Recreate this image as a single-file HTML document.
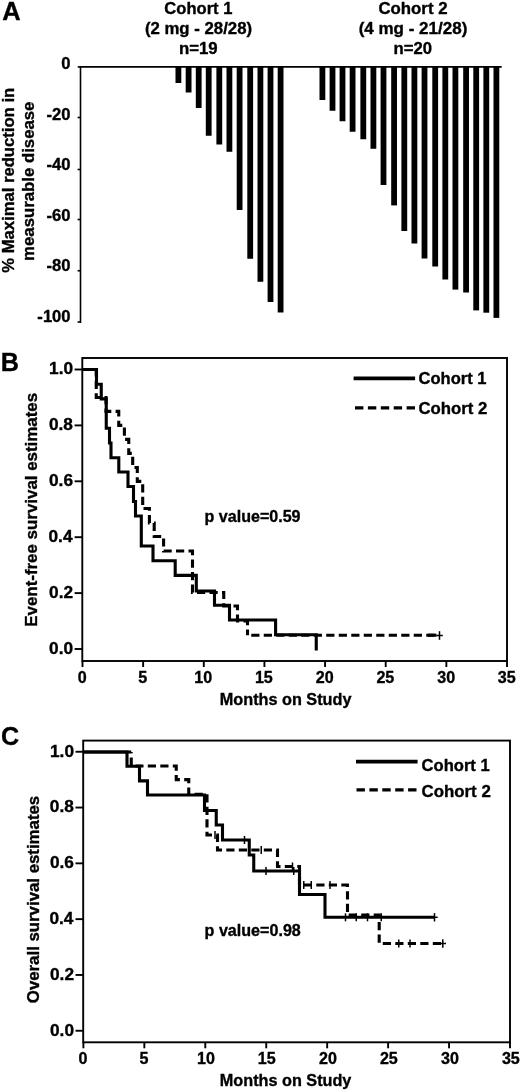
<!DOCTYPE html>
<html><head><meta charset="utf-8"><title>Figure</title>
<style>
html,body{margin:0;padding:0;background:#fff;}
svg{display:block;will-change:transform;}
text{font-family:"Liberation Sans",sans-serif;font-weight:bold;fill:#000;stroke:#000;stroke-width:0.35px;}
</style></head><body>
<svg width="520" height="1091" viewBox="0 0 520 1091">
<rect x="0" y="0" width="520" height="1091" fill="#fff"/>
<text transform="translate(2.27,20.40) scale(1.0020,1)" font-size="25.44">A</text>
<text transform="translate(164.32,13.60) scale(1.0266,1)" font-size="16.15">Cohort 1</text>
<text transform="translate(144.91,33.70) scale(1.0385,1)" font-size="16.15">(2 mg - 28/28)</text>
<text transform="translate(178.89,54.00) scale(1.0373,1)" font-size="16.18">n=19</text>
<text transform="translate(378.44,13.60) scale(1.0412,1)" font-size="16.15">Cohort 2</text>
<text transform="translate(358.65,33.70) scale(1.0533,1)" font-size="16.15">(4 mg - 21/28)</text>
<text transform="translate(393.52,54.00) scale(1.0321,1)" font-size="16.18">n=20</text>
<path d="M80.50 66.15L80.50 323.00" stroke="#000" stroke-width="1.6" fill="none"/>
<path d="M79.70 66.90L501.70 66.90" stroke="#000" stroke-width="1.6" fill="none"/>
<path d="M77.60 117.50L80.50 117.50" stroke="#000" stroke-width="1.6" fill="none"/>
<path d="M77.60 169.50L80.50 169.50" stroke="#000" stroke-width="1.6" fill="none"/>
<path d="M77.60 219.50L80.50 219.50" stroke="#000" stroke-width="1.6" fill="none"/>
<path d="M77.60 270.75L80.50 270.75" stroke="#000" stroke-width="1.6" fill="none"/>
<path d="M77.60 322.00L80.50 322.00" stroke="#000" stroke-width="1.6" fill="none"/>
<text transform="translate(61.35,69.31) scale(1.0000,1)" font-size="16.60">0</text>
<text transform="translate(46.59,119.91) scale(1.0000,1)" font-size="16.60">-20</text>
<text transform="translate(46.59,170.41) scale(1.0000,1)" font-size="16.60">-40</text>
<text transform="translate(46.59,220.91) scale(1.0000,1)" font-size="16.60">-60</text>
<text transform="translate(46.59,271.41) scale(1.0000,1)" font-size="16.60">-80</text>
<text transform="translate(37.36,321.91) scale(1.0000,1)" font-size="16.60">-100</text>
<path d="M77.70 66.90L80.50 66.90" stroke="#000" stroke-width="1.6" fill="none"/>
<text transform="translate(13.50,272.71) rotate(-90) scale(1.0492,1)" font-size="15.87">% Maximal reduction in</text>
<text transform="translate(34.00,260.91) rotate(-90) scale(1.0664,1)" font-size="15.73">measurable disease</text>
<rect x="175.50" y="66.90" width="5.80" height="16.10"/>
<rect x="185.70" y="66.90" width="5.80" height="25.60"/>
<rect x="195.80" y="66.90" width="5.80" height="41.10"/>
<rect x="205.80" y="66.90" width="5.80" height="68.85"/>
<rect x="216.40" y="66.90" width="5.80" height="77.60"/>
<rect x="226.50" y="66.90" width="5.80" height="84.85"/>
<rect x="236.70" y="66.90" width="5.80" height="143.10"/>
<rect x="247.30" y="66.90" width="5.80" height="191.85"/>
<rect x="257.50" y="66.90" width="5.80" height="214.85"/>
<rect x="267.60" y="66.90" width="5.80" height="235.10"/>
<rect x="277.70" y="66.90" width="5.80" height="245.60"/>
<rect x="319.50" y="66.90" width="5.80" height="33.10"/>
<rect x="329.60" y="66.90" width="5.80" height="43.85"/>
<rect x="339.60" y="66.90" width="5.80" height="54.35"/>
<rect x="349.70" y="66.90" width="5.80" height="64.85"/>
<rect x="360.40" y="66.90" width="5.80" height="72.35"/>
<rect x="370.50" y="66.90" width="5.80" height="81.85"/>
<rect x="380.60" y="66.90" width="5.80" height="118.10"/>
<rect x="391.20" y="66.90" width="5.80" height="138.50"/>
<rect x="401.40" y="66.90" width="5.80" height="164.10"/>
<rect x="411.50" y="66.90" width="5.80" height="176.60"/>
<rect x="421.60" y="66.90" width="5.80" height="191.60"/>
<rect x="432.30" y="66.90" width="5.80" height="199.60"/>
<rect x="442.40" y="66.90" width="5.80" height="212.60"/>
<rect x="452.50" y="66.90" width="5.80" height="222.70"/>
<rect x="463.20" y="66.90" width="5.80" height="225.60"/>
<rect x="473.30" y="66.90" width="5.80" height="243.50"/>
<rect x="483.40" y="66.90" width="5.80" height="245.80"/>
<rect x="493.50" y="66.90" width="5.80" height="251.00"/>
<rect x="82.3" y="358" width="424.7" height="303" fill="none" stroke="#000" stroke-width="1.9"/>
<text transform="translate(0.81,370.60) scale(0.9760,1)" font-size="25.87">B</text>
<path d="M74.60 369.50L82.30 369.50" stroke="#000" stroke-width="1.9" fill="none"/>
<text transform="translate(49.11,374.31) scale(1.0400,1)" font-size="16.60">1.0</text>
<path d="M74.60 425.40L82.30 425.40" stroke="#000" stroke-width="1.9" fill="none"/>
<text transform="translate(48.93,430.21) scale(1.0400,1)" font-size="16.60">0.8</text>
<path d="M74.60 481.30L82.30 481.30" stroke="#000" stroke-width="1.9" fill="none"/>
<text transform="translate(49.02,486.11) scale(1.0400,1)" font-size="16.60">0.6</text>
<path d="M74.60 537.20L82.30 537.20" stroke="#000" stroke-width="1.9" fill="none"/>
<text transform="translate(48.49,542.01) scale(1.0400,1)" font-size="16.60">0.4</text>
<path d="M74.60 593.10L82.30 593.10" stroke="#000" stroke-width="1.9" fill="none"/>
<text transform="translate(49.09,597.91) scale(1.0400,1)" font-size="16.60">0.2</text>
<path d="M74.60 649.00L82.30 649.00" stroke="#000" stroke-width="1.9" fill="none"/>
<text transform="translate(49.11,653.81) scale(1.0400,1)" font-size="16.60">0.0</text>
<path d="M82.50 661.00L82.50 667.00" stroke="#000" stroke-width="1.9" fill="none"/>
<text transform="translate(77.73,682.86) scale(0.9700,1)" font-size="16.60">0</text>
<path d="M143.14 661.00L143.14 667.00" stroke="#000" stroke-width="1.9" fill="none"/>
<text transform="translate(138.34,682.86) scale(0.9700,1)" font-size="16.60">5</text>
<path d="M203.79 661.00L203.79 667.00" stroke="#000" stroke-width="1.9" fill="none"/>
<text transform="translate(194.35,682.86) scale(0.9700,1)" font-size="16.60">10</text>
<path d="M264.43 661.00L264.43 667.00" stroke="#000" stroke-width="1.9" fill="none"/>
<text transform="translate(254.89,682.86) scale(0.9700,1)" font-size="16.60">15</text>
<path d="M325.07 661.00L325.07 667.00" stroke="#000" stroke-width="1.9" fill="none"/>
<text transform="translate(315.87,682.86) scale(0.9700,1)" font-size="16.60">20</text>
<path d="M385.71 661.00L385.71 667.00" stroke="#000" stroke-width="1.9" fill="none"/>
<text transform="translate(376.40,682.86) scale(0.9700,1)" font-size="16.60">25</text>
<path d="M446.36 661.00L446.36 667.00" stroke="#000" stroke-width="1.9" fill="none"/>
<text transform="translate(437.25,682.86) scale(0.9700,1)" font-size="16.60">30</text>
<path d="M507.00 661.00L507.00 667.00" stroke="#000" stroke-width="1.9" fill="none"/>
<text transform="translate(497.78,682.86) scale(0.9700,1)" font-size="16.60">35</text>
<text transform="translate(36.50,626.73) rotate(-90) scale(1.0296,1)" font-size="16.42">Event-free survival estimates</text>
<text transform="translate(219.81,705.40) scale(1.0055,1)" font-size="16.15">Months on Study</text>
<rect x="83.2" y="740.6" width="426.8" height="301.69999999999993" fill="none" stroke="#000" stroke-width="1.9"/>
<text transform="translate(1.07,744.90) scale(0.9571,1)" font-size="26.21">C</text>
<path d="M75.50 751.75L83.20 751.75" stroke="#000" stroke-width="1.9" fill="none"/>
<text transform="translate(50.01,756.56) scale(1.0400,1)" font-size="16.60">1.0</text>
<path d="M75.50 807.55L83.20 807.55" stroke="#000" stroke-width="1.9" fill="none"/>
<text transform="translate(49.83,812.36) scale(1.0400,1)" font-size="16.60">0.8</text>
<path d="M75.50 863.35L83.20 863.35" stroke="#000" stroke-width="1.9" fill="none"/>
<text transform="translate(49.92,868.16) scale(1.0400,1)" font-size="16.60">0.6</text>
<path d="M75.50 919.15L83.20 919.15" stroke="#000" stroke-width="1.9" fill="none"/>
<text transform="translate(49.39,923.96) scale(1.0400,1)" font-size="16.60">0.4</text>
<path d="M75.50 974.95L83.20 974.95" stroke="#000" stroke-width="1.9" fill="none"/>
<text transform="translate(49.99,979.76) scale(1.0400,1)" font-size="16.60">0.2</text>
<path d="M75.50 1030.75L83.20 1030.75" stroke="#000" stroke-width="1.9" fill="none"/>
<text transform="translate(50.01,1035.56) scale(1.0400,1)" font-size="16.60">0.0</text>
<path d="M83.40 1042.30L83.40 1048.30" stroke="#000" stroke-width="1.9" fill="none"/>
<text transform="translate(78.53,1063.86) scale(0.9700,1)" font-size="16.60">0</text>
<path d="M144.34 1042.30L144.34 1048.30" stroke="#000" stroke-width="1.9" fill="none"/>
<text transform="translate(139.44,1063.86) scale(0.9700,1)" font-size="16.60">5</text>
<path d="M205.29 1042.30L205.29 1048.30" stroke="#000" stroke-width="1.9" fill="none"/>
<text transform="translate(196.95,1063.86) scale(0.9700,1)" font-size="16.60">10</text>
<path d="M266.23 1042.30L266.23 1048.30" stroke="#000" stroke-width="1.9" fill="none"/>
<text transform="translate(257.79,1063.86) scale(0.9700,1)" font-size="16.60">15</text>
<path d="M327.17 1042.30L327.17 1048.30" stroke="#000" stroke-width="1.9" fill="none"/>
<text transform="translate(319.07,1063.86) scale(0.9700,1)" font-size="16.60">20</text>
<path d="M388.11 1042.30L388.11 1048.30" stroke="#000" stroke-width="1.9" fill="none"/>
<text transform="translate(379.90,1063.86) scale(0.9700,1)" font-size="16.60">25</text>
<path d="M449.06 1042.30L449.06 1048.30" stroke="#000" stroke-width="1.9" fill="none"/>
<text transform="translate(441.05,1063.86) scale(0.9700,1)" font-size="16.60">30</text>
<path d="M510.00 1042.30L510.00 1048.30" stroke="#000" stroke-width="1.9" fill="none"/>
<text transform="translate(501.88,1063.86) scale(0.9700,1)" font-size="16.60">35</text>
<text transform="translate(38.80,1003.19) rotate(-90) scale(1.0697,1)" font-size="15.73">Overall survival estimates</text>
<text transform="translate(219.81,1085.80) scale(0.9970,1)" font-size="16.28">Months on Study</text>
<path d="M82.50 369.50L96.25 369.50L96.25 397.50L106.00 397.50L106.00 411.40L118.75 411.40L118.75 425.40L124.40 425.40L124.40 439.40L128.75 439.40L128.75 453.40L132.70 453.40L132.70 467.50L137.30 467.50L137.30 481.40L142.70 481.40L142.70 508.50L149.40 508.50L149.40 523.00L154.20 523.00L154.20 536.50L163.60 536.50L163.60 551.00L192.50 551.00L192.50 592.50L223.75 592.50L223.75 606.00L237.50 606.00L237.50 621.00L247.50 621.00L247.50 635.20" stroke="#000" stroke-width="3.1" fill="none" stroke-dasharray="8.2 4.3" stroke-dashoffset="0" stroke-linejoin="miter"/>
<path d="M247.50 635.20L434.60 635.20" stroke="#000" stroke-width="3.1" fill="none" stroke-dasharray="8.2 4.3" stroke-dashoffset="8.75" stroke-linejoin="miter"/>
<path d="M428.00 635.20L436.40 635.20" stroke="#000" stroke-width="3.1" fill="none"/>
<path d="M82.50 369.50L96.50 369.50L96.50 384.20L101.25 384.20L101.25 398.90L106.25 398.90L106.25 428.30L109.50 428.30L109.50 443.00L111.00 443.00L111.00 457.70L118.80 457.70L118.80 472.00L128.00 472.00L128.00 486.50L133.50 486.50L133.50 501.50L135.50 501.50L135.50 516.00L141.30 516.00L141.30 546.00L153.00 546.00L153.00 560.70L175.20 560.70L175.20 575.40L196.30 575.40L196.30 591.00L214.50 591.00L214.50 605.30L229.50 605.30L229.50 620.00L275.60 620.00L275.60 634.80L316.25 634.80L316.25 650.50" stroke="#000" stroke-width="3.1" fill="none" stroke-linejoin="miter"/>
<path d="M439.50 631.20L439.50 639.80" stroke="#000" stroke-width="1.5" fill="none"/>
<path d="M436.20 635.50L442.80 635.50" stroke="#000" stroke-width="1.5" fill="none"/>
<path d="M353.60 378.40L415.10 378.40" stroke="#000" stroke-width="3.6" fill="none"/>
<path d="M355 407.8H415.1" stroke="#000" stroke-width="3.3" stroke-dasharray="8.4 4.5" fill="none"/>
<text transform="translate(418.52,384.20) scale(0.9897,1)" font-size="16.70">Cohort 1</text>
<text transform="translate(418.51,413.70) scale(1.0046,1)" font-size="16.70">Cohort 2</text>
<text transform="translate(204.59,521.90) scale(0.9782,1)" font-size="16.42">p value=0.59</text>
<path d="M83.20 752.00L131.25 752.00" stroke="#000" stroke-width="3.1" fill="none"/>
<path d="M131.25 752.00L131.25 766.00L176.25 766.00L176.25 779.60L188.75 779.60L188.75 794.20L207.00 794.20L207.00 835.00L217.50 835.00L217.50 850.00L277.50 850.00L277.50 866.50L299.50 866.50L299.50 885.00L347.50 885.00L347.50 915.10L379.20 915.10L379.20 943.50L442.50 943.50" stroke="#000" stroke-width="3.1" fill="none" stroke-dasharray="8.2 4.3" stroke-dashoffset="6.95" stroke-linejoin="miter"/>
<path d="M83.20 752.00L127.00 752.00L127.00 766.30L139.50 766.30L139.50 780.90L147.50 780.90L147.50 795.00L204.50 795.00L204.50 810.50L216.25 810.50L216.25 825.00L222.50 825.00L222.50 840.00L249.25 840.00L249.25 855.00L253.75 855.00L253.75 871.00L299.50 871.00L299.50 894.50L325.00 894.50L325.00 917.30L434.50 917.30" stroke="#000" stroke-width="3.1" fill="none" stroke-linejoin="miter"/>
<path d="M244.50 836.00L244.50 844.00" stroke="#000" stroke-width="1.5" fill="none"/>
<path d="M266.00 867.00L266.00 875.00" stroke="#000" stroke-width="1.5" fill="none"/>
<path d="M293.75 867.00L293.75 875.00" stroke="#000" stroke-width="1.5" fill="none"/>
<path d="M345.50 913.30L345.50 921.30" stroke="#000" stroke-width="1.5" fill="none"/>
<path d="M356.25 913.30L356.25 921.30" stroke="#000" stroke-width="1.5" fill="none"/>
<path d="M367.50 913.30L367.50 921.30" stroke="#000" stroke-width="1.5" fill="none"/>
<path d="M381.25 913.30L381.25 921.30" stroke="#000" stroke-width="1.5" fill="none"/>
<path d="M434.50 913.10L434.50 921.50" stroke="#000" stroke-width="1.5" fill="none"/>
<path d="M431.30 917.30L437.70 917.30" stroke="#000" stroke-width="1.5" fill="none"/>
<path d="M215.00 831.00L215.00 839.00" stroke="#000" stroke-width="1.5" fill="none"/>
<path d="M261.25 846.00L261.25 854.00" stroke="#000" stroke-width="1.5" fill="none"/>
<path d="M292.50 862.50L292.50 870.50" stroke="#000" stroke-width="1.5" fill="none"/>
<path d="M303.75 881.00L303.75 889.00" stroke="#000" stroke-width="1.5" fill="none"/>
<path d="M311.25 881.00L311.25 889.00" stroke="#000" stroke-width="1.5" fill="none"/>
<path d="M330.00 881.00L330.00 889.00" stroke="#000" stroke-width="1.5" fill="none"/>
<path d="M398.75 939.50L398.75 947.50" stroke="#000" stroke-width="1.5" fill="none"/>
<path d="M410.00 939.50L410.00 947.50" stroke="#000" stroke-width="1.5" fill="none"/>
<path d="M442.80 939.30L442.80 947.70" stroke="#000" stroke-width="1.5" fill="none"/>
<path d="M439.60 943.50L446.00 943.50" stroke="#000" stroke-width="1.5" fill="none"/>
<path d="M356.00 761.60L417.60 761.60" stroke="#000" stroke-width="3.6" fill="none"/>
<path d="M356.5 789.8H417.6" stroke="#000" stroke-width="3.3" stroke-dasharray="8.4 4.5" fill="none"/>
<text transform="translate(421.52,770.60) scale(1.0370,1)" font-size="16.01">Cohort 1</text>
<text transform="translate(421.51,797.40) scale(1.0617,1)" font-size="15.87">Cohort 2</text>
<text transform="translate(204.59,935.60) scale(0.9813,1)" font-size="16.42">p value=0.98</text>
</svg>
</body></html>
